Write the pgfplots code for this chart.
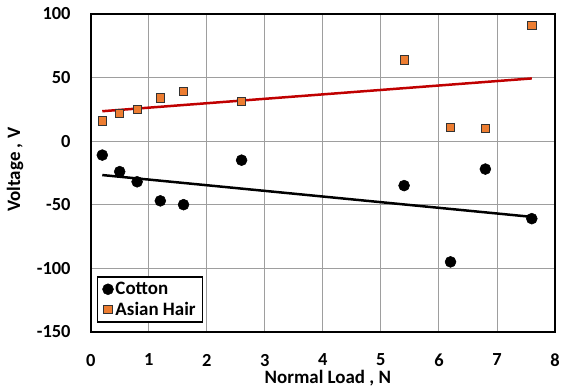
\documentclass[border=0pt]{standalone}
\usepackage{fontspec}
\setmainfont{Carlito}
\usepackage{pgfplots}
\pgfplotsset{compat=1.18}
\definecolor{hairorange}{HTML}{ED7D31}
\definecolor{trendred}{HTML}{C00000}
\begin{document}
\begin{tikzpicture}
\begin{axis}[
 scale only axis, width=466pt, height=319pt,
 xmin=0, xmax=8, ymin=-150, ymax=100,
 xtick={0,1,...,8}, ytick={-150,-100,...,100},
 grid=major, grid style={draw=black!38, line width=0.9pt},
 axis line style={line width=1.8pt},
 major tick length=0pt,
 /pgf/number format/assume math mode=true,
 ticklabel style={font=\fontsize{18.5}{20}\selectfont\bfseries, inner sep=0pt},
 xticklabel style={anchor=north, yshift=-22pt},
 yticklabel style={anchor=east, xshift=-20pt},
 xlabel={Normal Load , N}, ylabel={Voltage , V},
 label style={font=\fontsize{19}{21}\selectfont\bfseries, inner sep=0pt},
 xlabel style={at={(axis description cs:0.5,0)}, anchor=north, yshift=-38pt, xshift=5pt},
 ylabel style={at={(axis description cs:-0.163,0.51)}, anchor=center},
 legend style={at={(0,0)}, anchor=south west, xshift=6pt, yshift=9pt,
   draw=black, line width=1.8pt, font=\fontsize{19}{21}\selectfont\bfseries,
   inner xsep=5pt, inner ysep=3pt, row sep=2pt},
 legend cell align=left,
]
\addplot[only marks, mark=*, mark size=5.5pt, mark options={draw=black, fill=black, line width=0.5pt}]
 coordinates {(0.2,-11) (0.5,-24) (0.8,-32) (1.2,-47) (1.6,-50) (2.6,-15) (5.4,-35) (6.2,-95) (6.8,-22) (7.6,-61)};
\addlegendentry{Cotton}
\addplot[only marks, mark=square*, mark size=4.2pt, mark options={draw=black!80, fill=hairorange, line width=0.8pt}]
 coordinates {(0.2,16) (0.5,22) (0.8,25) (1.2,34) (1.6,39) (2.6,31) (5.4,64) (6.2,11) (6.8,10) (7.6,91)};
\addlegendentry{Asian Hair}
\addplot[forget plot, draw=black, line width=2.5pt] coordinates {(0.2,-26.7) (7.6,-59.6)};
\addplot[forget plot, draw=trendred, line width=2.5pt] coordinates {(0.2,23.5) (7.6,49.3)};
\end{axis}
\pgfresetboundingbox
\path[use as bounding box] (-91pt,-55pt) rectangle (472pt,333pt);
\end{tikzpicture}
\end{document}
